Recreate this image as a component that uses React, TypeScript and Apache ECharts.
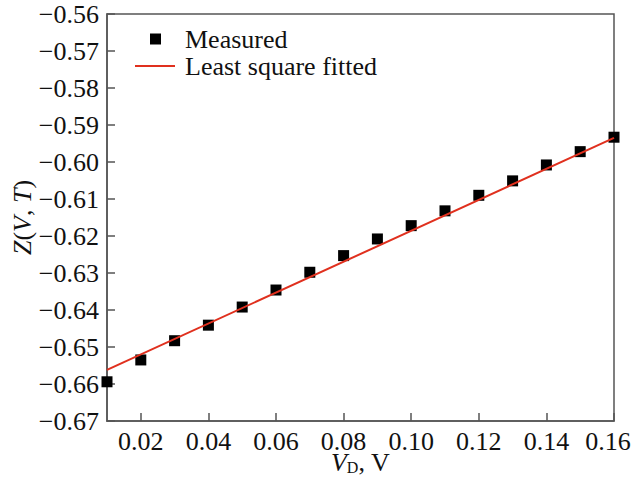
import React, { useEffect, useRef } from "react";
import * as echarts from "echarts";

const xValues = [0.01, 0.02, 0.03, 0.04, 0.05, 0.06, 0.07, 0.08, 0.09, 0.1, 0.11, 0.12, 0.13, 0.14, 0.15, 0.16];
const measured = [-0.6594, -0.6535, -0.6483, -0.6441, -0.6392, -0.6346, -0.6298, -0.6253, -0.6208, -0.6172, -0.6132, -0.609, -0.6051, -0.6008, -0.5972, -0.5933];
const fitX = [0.01, 0.16];
const fitY = [-0.6562, -0.5935];
const xTickValues = [0.02, 0.04, 0.06, 0.08, 0.1, 0.12, 0.14, 0.16];

const FONT = "Liberation Serif";

export default function App() {
  const ref = useRef<HTMLDivElement>(null);
  useEffect(() => {
    if (!ref.current) return;
    const chart = echarts.init(ref.current, undefined, { renderer: "svg" });
    const axisColor = "#555";
    const lastX = xTickValues[xTickValues.length - 1];
    chart.setOption({
      animation: false,
      backgroundColor: "#fff",
      textStyle: { fontFamily: FONT },
      grid: {
        left: 107,
        top: 14,
        right: 19,
        bottom: 59,
        show: true,
        borderColor: axisColor,
        borderWidth: 1.5,
        containLabel: false,
        outerBoundsMode: "none",
      },
      legend: [
        {
          data: ["Measured"],
          left: 150,
          top: 26,
          padding: 0,
          itemWidth: 11,
          itemHeight: 11,
          orient: "vertical",
          textStyle: { fontFamily: FONT, fontSize: 26, lineHeight: 22, color: "#111", padding: [0, 0, 0, 19] },
        },
        {
          data: [{ name: "Least square fitted", icon: "rect" }],
          left: 135,
          top: 53,
          padding: 0,
          itemWidth: 40,
          itemHeight: 2,
          orient: "vertical",
          textStyle: { fontFamily: FONT, fontSize: 26, lineHeight: 22, color: "#111", padding: [0, 0, 0, 5] },
        },
      ],
      xAxis: {
        type: "value",
        min: 0.01,
        max: 0.16,
        name: "{i|V}{sub|D}{n|, V}",
        nameLocation: "middle",
        nameGap: 30,
        nameMoveOverlap: false,
        nameTextStyle: {
          rich: {
            i: { fontFamily: FONT, fontSize: 26, lineHeight: 22, fontStyle: "italic", color: "#111" },
            sub: { fontFamily: FONT, fontSize: 16, lineHeight: 12, color: "#111", padding: [10, 0, 0, 0] },
            n: { fontFamily: FONT, fontSize: 26, lineHeight: 22, color: "#111" },
          },
        },
        axisLine: { show: true, lineStyle: { color: axisColor, width: 1.5 } },
        axisTick: {
          show: true,
          inside: true,
          length: 8,
          customValues: xTickValues,
          lineStyle: { color: axisColor, width: 1.5 },
        },
        axisLabel: {
          customValues: xTickValues,
          fontFamily: FONT,
          fontSize: 26,
          lineHeight: 18,
          color: "#111",
          margin: 11,
          formatter: (v: number) =>
            Math.abs(v - lastX) < 1e-9 ? "{last|" + v.toFixed(2) + "}" : v.toFixed(2),
          rich: {
            last: { fontFamily: FONT, fontSize: 26, lineHeight: 18, color: "#111", padding: [0, 12, 0, 0] },
          },
        },
        splitLine: { show: false },
      },
      yAxis: {
        type: "value",
        min: -0.67,
        max: -0.56,
        interval: 0.01,
        name: "{i|Z}{n|(}{i|V}{n|, }{i|T}{n|)}",
        nameLocation: "middle",
        nameGap: 72,
        nameRotate: 90,
        nameMoveOverlap: false,
        nameTextStyle: {
          rich: {
            i: { fontFamily: FONT, fontSize: 26, fontStyle: "italic", color: "#111" },
            n: { fontFamily: FONT, fontSize: 26, color: "#111" },
          },
        },
        axisLine: { show: true, lineStyle: { color: axisColor, width: 1.5 } },
        axisTick: { show: true, inside: true, length: 8, lineStyle: { color: axisColor, width: 1.5 } },
        axisLabel: {
          fontFamily: FONT,
          fontSize: 26,
          color: "#111",
          margin: 8,
          formatter: (v: number) => v.toFixed(2).replace("-", "\u2212"),
        },
        splitLine: { show: false },
      },
      series: [
        {
          name: "Measured",
          type: "scatter",
          symbol: "rect",
          symbolSize: 11,
          itemStyle: { color: "#000", opacity: 1 },
          data: xValues.map((x, i) => [x, measured[i]]),
          z: 2,
        },
        {
          name: "Least square fitted",
          type: "line",
          symbol: "none",
          lineStyle: { color: "#e0301e", width: 2 },
          itemStyle: { color: "#e0301e" },
          data: fitX.map((x, i) => [x, fitY[i]]),
          z: 3,
        },
      ],
    });
    return () => chart.dispose();
  }, []);
  return (
    <div
      ref={ref}
      style={{ position: "fixed", left: 0, top: 0, width: 633, height: 480, background: "#fff" }}
    />
  );
}
